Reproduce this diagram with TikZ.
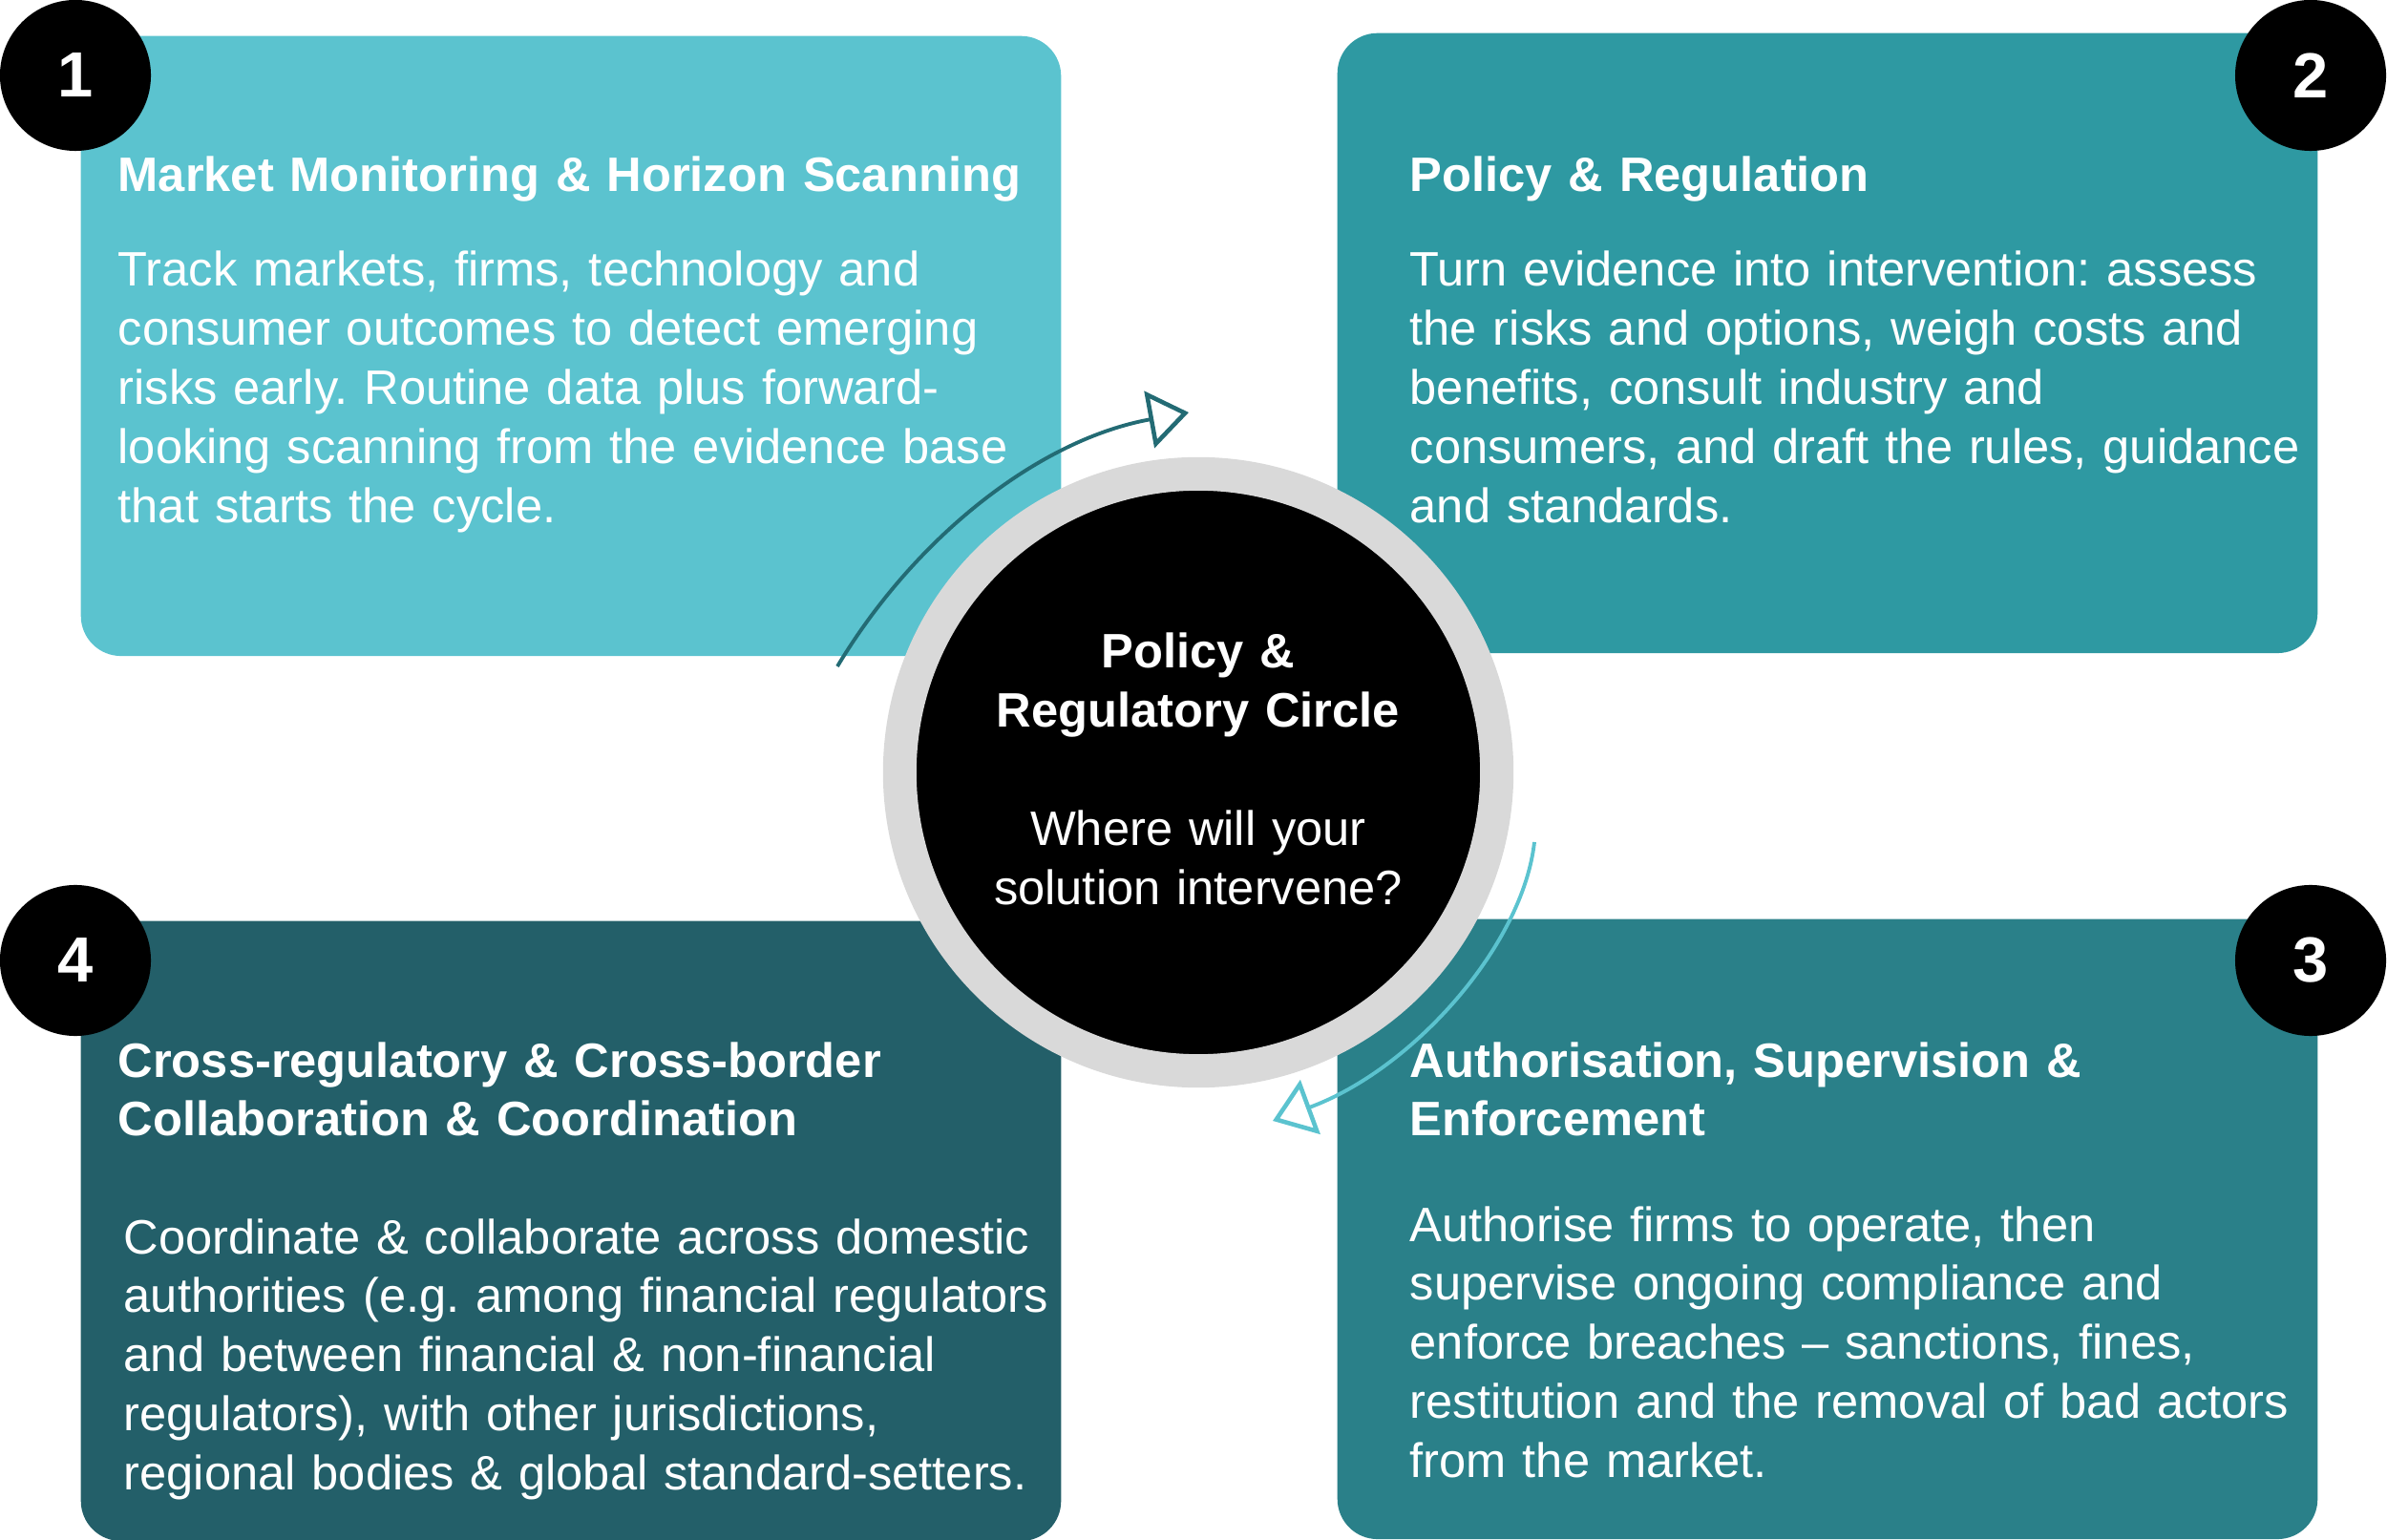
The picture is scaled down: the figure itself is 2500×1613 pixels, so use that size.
\documentclass[tikz,border=0pt]{standalone}
\usepackage{fontspec}
\setmainfont{Liberation Sans}
\usetikzlibrary{arrows.meta}
\frenchspacing

\definecolor{monitorTeal}{HTML}{5BC3CF}
\definecolor{policyTeal}{HTML}{2E99A2}
\definecolor{superviseTeal}{HTML}{2A8089}
\definecolor{collabTeal}{HTML}{235F69}
\definecolor{ringGray}{HTML}{D9D9D9}
\definecolor{arrowDark}{HTML}{236B74}

\tikzset{
  stageBox/.style={rounded corners=0.42cm, minimum width=10.26cm, minimum height=6.49cm, inner sep=0pt, anchor=north west},
  stageTitle/.style={anchor=base west, inner sep=0pt, text width=10.2cm, align=left, text=white, font=\fontsize{14.4}{17.6}\selectfont\bfseries},
  stageText/.style={anchor=base west, inner sep=0pt, text width=10.2cm, align=left, text=white, font=\fontsize{14.4}{17.6}\selectfont},
  stageNumber/.style={circle, fill=black, minimum size=1.58cm, inner sep=0pt, text=white, font=\fontsize{19}{22}\selectfont\bfseries},
  circleLabel/.style={anchor=base, inner sep=0pt, text width=6cm, align=center, text=white},
  cycleArrow/.style={line width=1.1pt, -{Triangle[open, length=0.42cm, width=0.6cm, line width=1.3pt]}}
}

\begin{document}
\begin{tikzpicture}[x=0.01cm, y=-0.01cm]
 \useasboundingbox (0,0) rectangle (2500,1613);

 %Boxes
 \node (monitorBox) [stageBox, fill=monitorTeal] at (84,37) {};
 \node (policyBox) [stageBox, fill=policyTeal] at (1400,34) {};
 \node (superviseBox) [stageBox, fill=superviseTeal] at (1400,962) {};
 \node (collabBox) [stageBox, fill=collabTeal] at (84,964) {};

 %Titles
 \node (monitorTitle) [stageTitle] at (123,201) {Market Monitoring \& Horizon Scanning};
 \node (policyTitle) [stageTitle] at (1476,201) {Policy \& Regulation};
 \node (superviseTitle) [stageTitle] at (1476,1128) {Authorisation, Supervision \&\\Enforcement};
 \node (collabTitle) [stageTitle] at (123,1128) {Cross-regulatory \& Cross-border\\Collaboration \& Coordination};

 %Texts
 \node (monitorText) [stageText] at (123,300) {Track markets, firms, technology and\\
   consumer outcomes to detect emerging\\
   risks early. Routine data plus forward-\\
   looking scanning from the evidence base\\
   that starts the cycle.};
 \node (policyText) [stageText] at (1476,300) {Turn evidence into intervention: assess\\
   the risks and options, weigh costs and\\
   benefits, consult industry and\\
   consumers, and draft the rules, guidance\\
   and standards.};
 \node (superviseText) [stageText] at (1476,1300) {Authorise firms to operate, then\\
   supervise ongoing compliance and\\
   enforce breaches -- sanctions, fines,\\
   restitution and the removal of bad actors\\
   from the market.};
 \node (collabText) [stageText] at (129,1313) {Coordinate \& collaborate across domestic\\
   authorities (e.g. among financial regulators\\
   and between financial \& non-financial\\
   regulators), with other jurisdictions,\\
   regional bodies \& global standard-setters.};

 %Numbers
 \node (num1) [stageNumber] at (79,79) {1};
 \node (num2) [stageNumber] at (2420,79) {2};
 \node (num3) [stageNumber] at (2420,1006) {3};
 \node (num4) [stageNumber] at (79,1006) {4};

 %Circle
 \node (policyCircle) [circle, fill=black, draw=ringGray, line width=0.35cm, minimum size=6.25cm, inner sep=0pt] at (1255,809) {};
 \node (circleTitle) [circleLabel, font=\fontsize{14.4}{17.6}\selectfont\bfseries] at (1255,700) {Policy \&\\Regulatory Circle};
 \node (circleQuestion) [circleLabel, font=\fontsize{14.4}{17.6}\selectfont] at (1255,886) {Where will your\\solution intervene?};

 %Arrows
 \coordinate (monitorArrowStart) at (877,698);
 \coordinate (monitorArrowEnd) at (1245,432);
 \coordinate (superviseArrowStart) at (1607,882);
 \coordinate (superviseArrowEnd) at (1333,1174);
 \draw[cycleArrow, arrowDark] (monitorArrowStart) .. controls (960,560) and (1090,460) .. (monitorArrowEnd);
 \draw[cycleArrow, monitorTeal] (superviseArrowStart) .. controls (1595,990) and (1480,1120) .. (superviseArrowEnd);

\end{tikzpicture}
\end{document}
